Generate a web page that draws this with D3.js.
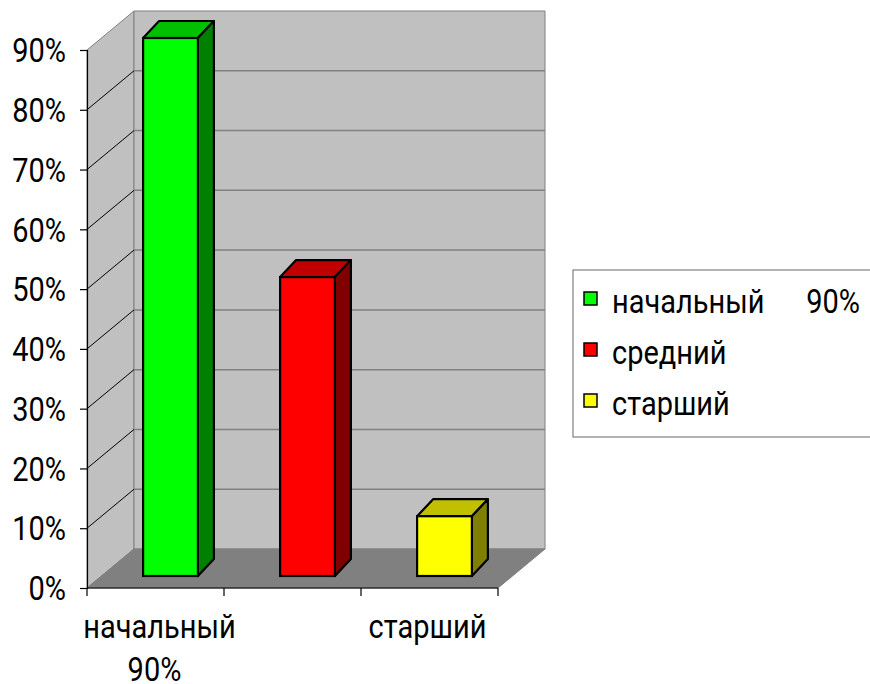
<!DOCTYPE html>
<html>
<head>
<meta charset="utf-8">
<script src="https://cdn.jsdelivr.net/npm/d3@7"></script>
<style>
  html, body { margin: 0; padding: 0; background: #fff; }
  svg { display: block; }
  text { font-family: Roboto, "Liberation Sans", Arial, sans-serif; fill: #000; }
</style>
</head>
<body>
<svg id="chart" width="870" height="684"></svg>
<script>
// Levels and their shares
const categories = ["начальный 90%", "средний", "старший"];
const values = [0.9, 0.5, 0.1];
const yTicks = [0, 0.1, 0.2, 0.3, 0.4, 0.5, 0.6, 0.7, 0.8, 0.9];
const frontColors = ["#00ff00", "#ff0000", "#ffff00"];
const topColors = ["#00c000", "#c00000", "#c0c000"];
const sideColors = ["#008000", "#800000", "#808000"];

const FS = 29;       // font size
const STRETCH = 1.12; // tall lettering

const svg = d3.select("#chart");

// front plane of the 3D box and its depth offset
const x = d3.scaleBand().domain(categories).range([87, 498]).paddingInner(0).paddingOuter(0);
const y = d3.scaleLinear().domain([0, 0.9]).range([588, 50]);
const DX = 47, DY = 39;
const x0 = x.range()[0], x1 = x.range()[1];
const yTop = y(0.9), yBot = y(0);

// walls and floor
const g = svg.append("g");
const poly = pts => pts.map(p => p.join(",")).join(" ");
g.append("polygon") // left wall
  .attr("points", poly([[x0, yTop], [x0 + DX, yTop - DY], [x0 + DX, yBot - DY], [x0, yBot]]))
  .attr("fill", "#c0c0c0").attr("stroke", "#808080").attr("stroke-width", 1);
g.append("polygon") // back wall
  .attr("points", poly([[x0 + DX, yTop - DY], [x1 + DX, yTop - DY], [x1 + DX, yBot - DY], [x0 + DX, yBot - DY]]))
  .attr("fill", "#c0c0c0").attr("stroke", "#808080").attr("stroke-width", 1);
g.append("polygon") // floor
  .attr("points", poly([[x0, yBot], [x0 + DX, yBot - DY], [x1 + DX, yBot - DY], [x1, yBot]]))
  .attr("fill", "#808080").attr("stroke", "#808080").attr("stroke-width", 1);

// gridlines: diagonal on the left wall, horizontal on the back wall
const grid = yTicks.filter(t => t > 0 && t < 0.9);
g.selectAll(".gl").data(grid).join("line").attr("class", "gl")
  .attr("x1", x0).attr("y1", d => y(d)).attr("x2", x0 + DX).attr("y2", d => y(d) - DY)
  .attr("stroke", "#000").attr("stroke-width", 1);
g.selectAll(".gb").data(grid).join("line").attr("class", "gb")
  .attr("x1", x0 + DX).attr("y1", d => y(d) - DY).attr("x2", x1 + DX).attr("y2", d => y(d) - DY)
  .attr("stroke", "#808080").attr("stroke-width", 1.5);

// value axis
const yAxis = d3.axisLeft(y).tickValues(yTicks).tickFormat(d3.format(".0%")).tickSize(7).tickPadding(14);
const ya = svg.append("g").attr("transform", `translate(${x0},0)`).call(yAxis);
ya.select(".domain").attr("stroke", "#000").attr("stroke-width", 1.2);
ya.selectAll(".tick line").attr("stroke", "#000").attr("stroke-width", 1.2);
ya.selectAll(".tick text").attr("font-size", FS).attr("dy", "0.36em")
  .attr("transform", `scale(1,${STRETCH})`)
  .style("font-family", "Roboto, sans-serif");

// category axis along the floor front edge
const xa = svg.append("g").attr("transform", `translate(0,${yBot})`);
xa.append("line").attr("x1", x0).attr("x2", x1).attr("y1", 0).attr("y2", 0)
  .attr("stroke", "#000").attr("stroke-width", 1.2);
const tickXs = [x0].concat(categories.map(c => x(c) + x.bandwidth()));
xa.selectAll(".xt").data(tickXs).join("line").attr("class", "xt")
  .attr("x1", d => d).attr("x2", d => d).attr("y1", 0).attr("y2", 8)
  .attr("stroke", "#000").attr("stroke-width", 1.2);
// every other category label is shown, long names wrap onto two lines
categories.forEach((c, i) => {
  if (i % 2 !== 0) return;
  const words = c.split(" ");
  const nudge = i === 0 ? 4 : -2;
  const t = xa.append("text").attr("text-anchor", "middle").attr("font-size", FS)
    .attr("transform", `translate(${x(c) + x.bandwidth() / 2 + nudge},50) scale(1,${STRETCH})`);
  words.forEach((w, k) => {
    t.append("tspan").attr("x", k === 0 ? 0 : -5).attr("dy", k === 0 ? 0 : 43 / STRETCH).text(w);
  });
});

// 3D bars
const SX = 15, SY = 12, BD = 16, BH = 17;
const bw = x.bandwidth() * 0.4;
const bars = svg.append("g").selectAll("g").data(categories).join("g");
bars.each(function (c, i) {
  const gg = d3.select(this);
  const fx = x(c) + x.bandwidth() * 0.3 + SX;
  const ft = y(values[i]) - SY, fb = y(0) - SY;
  gg.append("polygon") // top
    .attr("points", poly([[fx, ft], [fx + BD, ft - BH], [fx + bw + BD, ft - BH], [fx + bw, ft]]))
    .attr("fill", topColors[i]).attr("stroke", "#000").attr("stroke-width", 2.2).attr("stroke-linejoin", "round");
  gg.append("polygon") // side
    .attr("points", poly([[fx + bw, ft], [fx + bw + BD, ft - BH], [fx + bw + BD, fb - BH], [fx + bw, fb]]))
    .attr("fill", sideColors[i]).attr("stroke", "#000").attr("stroke-width", 2.2).attr("stroke-linejoin", "round");
  gg.append("rect") // front
    .attr("x", fx).attr("y", ft).attr("width", bw).attr("height", fb - ft)
    .attr("fill", frontColors[i]).attr("stroke", "#000").attr("stroke-width", 2.2);
});

// legend
const lg = svg.append("g");
lg.append("rect").attr("x", 573).attr("y", 270).attr("width", 310).attr("height", 167)
  .attr("fill", "#fff").attr("stroke", "#808080").attr("stroke-width", 1.2);
categories.forEach((c, i) => {
  const cy = 298.5 + i * 51;
  lg.append("rect").attr("x", 584).attr("y", cy - 6.5).attr("width", 13).attr("height", 13)
    .attr("fill", frontColors[i]).attr("stroke", "#000").attr("stroke-width", 1.5);
  const parts = c.split(" ");
  lg.append("text").attr("font-size", FS)
    .attr("transform", `translate(612,${cy + 14}) scale(1,${STRETCH})`).text(parts[0]);
  if (parts.length > 1) {
    lg.append("text").attr("text-anchor", "end").attr("font-size", FS)
      .attr("transform", `translate(860,${cy + 14}) scale(1,${STRETCH})`)
      .text(parts.slice(1).join(" "));
  }
});
</script>
</body>
</html>
